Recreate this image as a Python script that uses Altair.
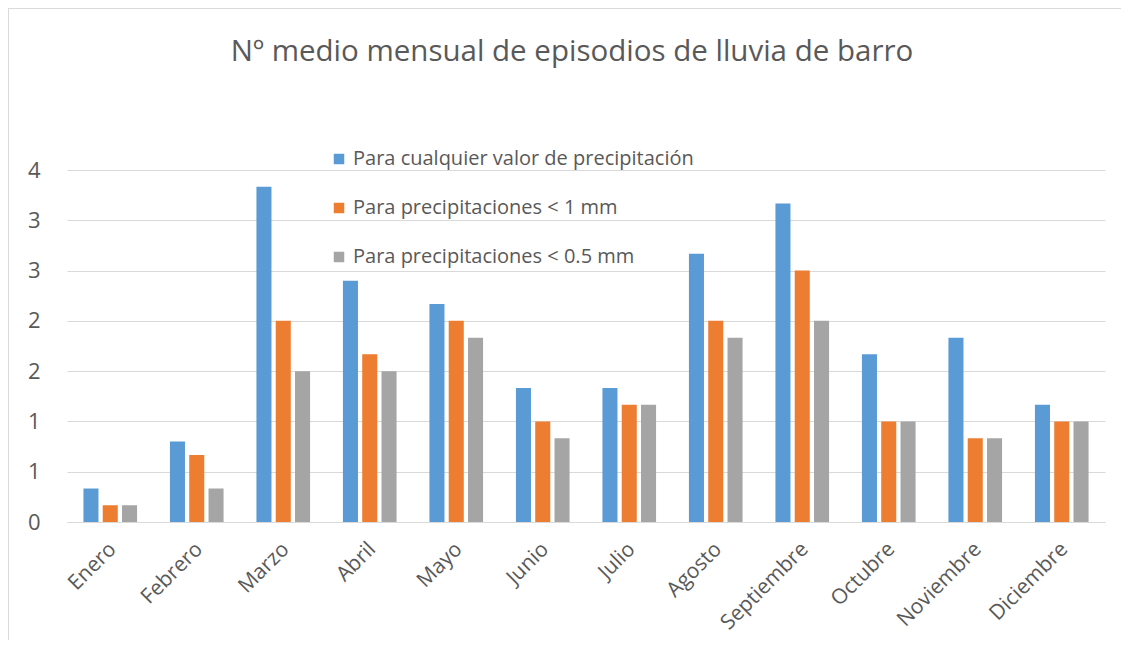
import altair as alt
import pandas as pd

months = ["Enero", "Febrero", "Marzo", "Abril", "Mayo", "Junio", "Julio",
          "Agosto", "Septiembre", "Octubre", "Noviembre", "Diciembre"]
series = ["Para cualquier valor de precipitación",
          "Para precipitaciones < 1 mm",
          "Para precipitaciones < 0.5 mm"]
v_any = [0.333, 0.8, 3.333, 2.4, 2.167, 1.333, 1.333, 2.667, 3.167, 1.667, 1.833, 1.167]
v_1mm = [0.167, 0.667, 2.0, 1.667, 2.0, 1.0, 1.167, 2.0, 2.5, 1.0, 0.833, 1.0]
v_05mm = [0.167, 0.333, 1.5, 1.5, 1.833, 0.833, 1.167, 1.833, 2.0, 1.0, 0.833, 1.0]
colors = ["#5b9bd5", "#ed7d31", "#a5a5a5"]
y_ticks = [0, 0.5, 1, 1.5, 2, 2.5, 3, 3.5]

rows = []
for s, vals in zip(series, [v_any, v_1mm, v_05mm]):
    for m, v in zip(months, vals):
        rows.append({"mes": m, "serie": s, "valor": v})
df = pd.DataFrame(rows)

FONT = "Open Sans"
TXT = "#595959"

bars = alt.Chart(df).mark_bar().encode(
    x=alt.X("mes:N", sort=months,
            scale=alt.Scale(paddingInner=0.38, paddingOuter=0.19),
            axis=alt.Axis(title=None, labelAngle=-45, labelFontSize=21,
                          labelColor=TXT, labelFont=FONT, ticks=False,
                          domainColor="#d9d9d9", labelPadding=16,
                          labelOffset=-5)),
    xOffset=alt.XOffset("serie:N", sort=series,
                        scale=alt.Scale(paddingInner=0.22, paddingOuter=0)),
    y=alt.Y("valor:Q", scale=alt.Scale(domain=[0, 3.5], nice=False),
            axis=alt.Axis(title=None, values=y_ticks, labelFontSize=22,
                          labelColor=TXT, labelFont=FONT, ticks=False,
                          domain=False, gridColor="#d9d9d9", labelPadding=27,
                          labelExpr="format(round(datum.value), 'd')")),
    color=alt.Color("serie:N", sort=series,
                    scale=alt.Scale(domain=series, range=colors),
                    legend=alt.Legend(title=None, orient="none", legendX=262,
                                      legendY=-21, symbolType="square",
                                      symbolSize=110, symbolStrokeWidth=0,
                                      labelFontSize=20, labelColor=TXT,
                                      labelFont=FONT, rowPadding=29,
                                      labelLimit=600)),
)

frame_top = alt.Chart(df).mark_rule(stroke="#d9d9d9", strokeWidth=1).encode(
    x=alt.value(-59), x2=alt.value(1054), y=alt.value(-162)
)
frame_left = alt.Chart(df).mark_rule(stroke="#d9d9d9", strokeWidth=1).encode(
    x=alt.value(-59), y=alt.value(-162), y2=alt.value(470)
)

chart = alt.layer(frame_top, frame_left, bars).properties(
    width=1038, height=352,
    title=alt.Title("Nº medio mensual de episodios de lluvia de barro",
                    fontSize=29.5, font=FONT, fontWeight="normal", color=TXT,
                    anchor="middle", frame="group", offset=-60, dx=-14),
    autosize=alt.AutoSizeParams(type="none"),
    padding={"left": 59, "top": 162, "right": 16, "bottom": 118},
).configure_view(stroke=None)

chart.save("out.html", embed_options={"renderer": "svg", "actions": False})
